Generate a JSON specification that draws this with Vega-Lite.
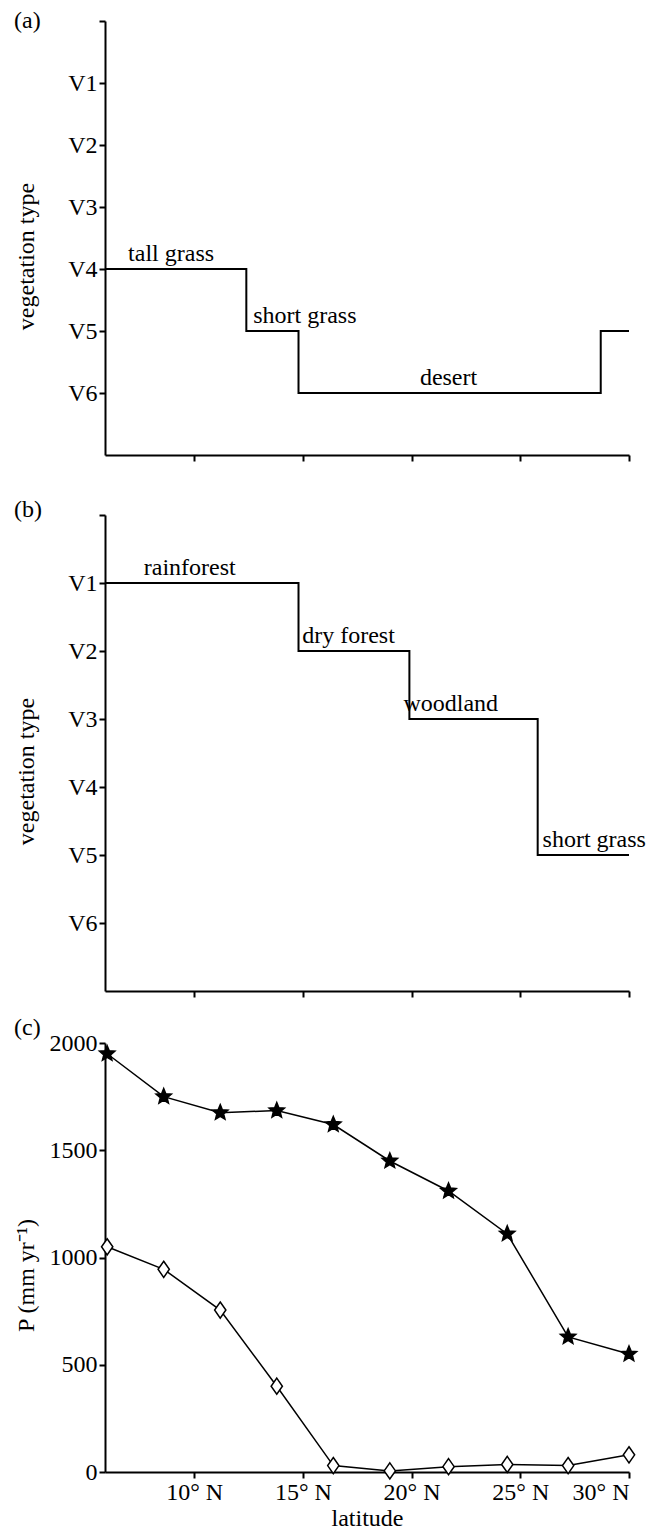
{
  "$schema": "https://vega.github.io/schema/vega-lite/v6.json",
  "background": "white",
  "padding": {"left": 14, "top": 9, "right": 5, "bottom": 0},
  "config": {
    "font": "Liberation Serif",
    "view": {"stroke": null},
    "axis": {
      "domainColor": "black", "domainWidth": 2,
      "tickColor": "black", "tickWidth": 2, "tickSize": 6,
      "labelColor": "black", "labelFont": "Liberation Serif", "labelFontSize": 24,
      "titleFont": "Liberation Serif", "titleFontSize": 24, "titleFontWeight": "normal", "titleColor": "black",
      "grid": false, "labelPadding": 2
    },
    "title": {"font": "Liberation Serif", "fontSize": 24, "fontWeight": "normal", "anchor": "start", "frame": "bounds", "color": "black"},
    "concat": {"spacing": 18}
  },
  "vconcat": [
    {
      "width": 524, "height": 434,
      "title": {"text": "(a)", "dy": 17, "dx": 0},
      "data": {"values": [
        {"kind": "step", "lat": 5.9, "v": 4},
        {"kind": "step", "lat": 12.4, "v": 5},
        {"kind": "step", "lat": 14.8, "v": 6},
        {"kind": "step", "lat": 28.7, "v": 5},
        {"kind": "step", "lat": 30, "v": 5},
        {"kind": "label", "lat": 8.94, "v": 4, "text": "tall grass"},
        {"kind": "label", "lat": 15.09, "v": 5, "text": "short grass"},
        {"kind": "label", "lat": 21.7, "v": 6, "text": "desert"}
      ]},
      "layer": [
        {
          "transform": [{"filter": "datum.kind == 'step'"}],
          "mark": {"type": "line", "interpolate": "step-after", "color": "black", "strokeWidth": 2},
          "encoding": {
            "x": {"field": "lat", "type": "quantitative", "scale": {"domain": [5.9, 30], "nice": false, "zero": false},
                  "axis": {"values": [10, 15, 20, 25, 30], "labels": false, "title": " ", "titleFontSize": 16, "titlePadding": 2}},
            "y": {"field": "v", "type": "quantitative", "scale": {"domain": [0, 7], "reverse": true, "nice": false},
                  "axis": {"values": [0, 1, 2, 3, 4, 5, 6], "labelExpr": "datum.value == 0 ? '' : 'V' + datum.value", "title": "vegetation type", "titleX": -67, "titleY": 235}}
          }
        },
        {
          "transform": [{"filter": "datum.kind == 'label'"}],
          "mark": {"type": "text", "font": "Liberation Serif", "fontSize": 24, "color": "black", "baseline": "bottom", "dy": -3, "align": "center"},
          "encoding": {
            "x": {"field": "lat", "type": "quantitative"},
            "y": {"field": "v", "type": "quantitative"},
            "text": {"field": "text"}
          }
        }
      ]
    },
    {
      "width": 524, "height": 476,
      "title": {"text": "(b)", "dy": 12, "dx": 0},
      "data": {"values": [
        {"kind": "step", "lat": 5.9, "v": 1},
        {"kind": "step", "lat": 14.8, "v": 2},
        {"kind": "step", "lat": 19.9, "v": 3},
        {"kind": "step", "lat": 25.8, "v": 5},
        {"kind": "step", "lat": 30, "v": 5},
        {"kind": "label", "lat": 9.8, "v": 1, "text": "rainforest"},
        {"kind": "label", "lat": 17.1, "v": 2, "text": "dry forest"},
        {"kind": "label", "lat": 21.8, "v": 3, "text": "woodland"},
        {"kind": "label", "lat": 28.4, "v": 5, "text": "short grass"}
      ]},
      "layer": [
        {
          "transform": [{"filter": "datum.kind == 'step'"}],
          "mark": {"type": "line", "interpolate": "step-after", "color": "black", "strokeWidth": 2},
          "encoding": {
            "x": {"field": "lat", "type": "quantitative", "scale": {"domain": [5.9, 30], "nice": false, "zero": false},
                  "axis": {"values": [10, 15, 20, 25, 30], "labels": false, "title": null}},
            "y": {"field": "v", "type": "quantitative", "scale": {"domain": [0, 7], "reverse": true, "nice": false},
                  "axis": {"values": [0, 1, 2, 3, 4, 5, 6], "labelExpr": "datum.value == 0 ? '' : 'V' + datum.value", "title": "vegetation type", "titleX": -67, "titleY": 256}}
          }
        },
        {
          "transform": [{"filter": "datum.kind == 'label'"}],
          "mark": {"type": "text", "font": "Liberation Serif", "fontSize": 24, "color": "black", "baseline": "bottom", "dy": -3, "align": "center"},
          "encoding": {
            "x": {"field": "lat", "type": "quantitative"},
            "y": {"field": "v", "type": "quantitative"},
            "text": {"field": "text"}
          }
        }
      ]
    },
    {
      "width": 524, "height": 429,
      "title": {"text": "(c)", "dy": 13, "dx": 0},
      "data": {"values": [
        {"s": "star", "lat": 6.0, "p": 1950},
        {"s": "star", "lat": 8.6, "p": 1750},
        {"s": "star", "lat": 11.2, "p": 1675},
        {"s": "star", "lat": 13.8, "p": 1685},
        {"s": "star", "lat": 16.4, "p": 1620},
        {"s": "star", "lat": 19.0, "p": 1450},
        {"s": "star", "lat": 21.7, "p": 1310},
        {"s": "star", "lat": 24.4, "p": 1110},
        {"s": "star", "lat": 27.2, "p": 630},
        {"s": "star", "lat": 30.0, "p": 550},
        {"s": "diamond", "lat": 6.0, "p": 1050},
        {"s": "diamond", "lat": 8.6, "p": 945},
        {"s": "diamond", "lat": 11.2, "p": 755},
        {"s": "diamond", "lat": 13.8, "p": 400},
        {"s": "diamond", "lat": 16.4, "p": 30},
        {"s": "diamond", "lat": 19.0, "p": 5},
        {"s": "diamond", "lat": 21.7, "p": 25},
        {"s": "diamond", "lat": 24.4, "p": 35},
        {"s": "diamond", "lat": 27.2, "p": 30},
        {"s": "diamond", "lat": 30.0, "p": 80}
      ]},
      "layer": [
        {
          "mark": {"type": "line", "color": "black", "strokeWidth": 1.5},
          "encoding": {
            "x": {"field": "lat", "type": "quantitative", "scale": {"domain": [5.9, 30], "nice": false, "zero": false},
                  "axis": {"values": [10, 15, 20, 25, 30], "labelExpr": "datum.value + '° N'", "title": "latitude", "titlePadding": 2}},
            "y": {"field": "p", "type": "quantitative", "scale": {"domain": [0, 2000], "nice": false},
                  "axis": {"values": [0, 500, 1000, 1500, 2000], "format": "d", "title": "P (mm yr⁻¹)", "titleX": -67, "titleY": 232}},
            "detail": {"field": "s"}
          }
        },
        {
          "mark": {"type": "point", "size": 260, "stroke": "black", "strokeWidth": 1.5, "opacity": 1, "fillOpacity": 1},
          "encoding": {
            "x": {"field": "lat", "type": "quantitative"},
            "y": {"field": "p", "type": "quantitative"},
            "shape": {"field": "s", "type": "nominal", "legend": null,
                      "scale": {"domain": ["star", "diamond"], "range": ["M0,-1L0.26,-0.36L0.951,-0.309L0.42,0.137L0.588,0.809L0,0.44L-0.588,0.809L-0.42,0.137L-0.951,-0.309L-0.26,-0.36Z", "M0,-1L0.7,0L0,1L-0.7,0Z"]}},
            "fill": {"field": "s", "type": "nominal", "legend": null,
                     "scale": {"domain": ["star", "diamond"], "range": ["black", "white"]}}
          }
        }
      ]
    }
  ]
}
